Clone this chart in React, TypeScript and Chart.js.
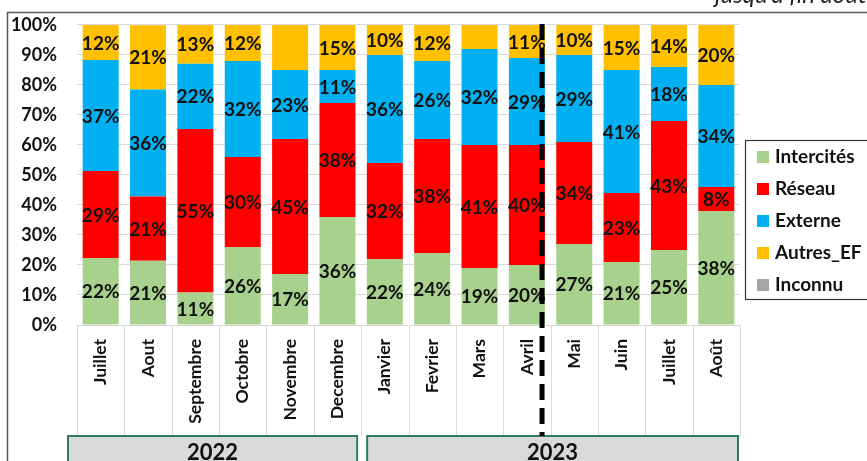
import React, { useEffect, useRef } from "react";
import { Chart, registerables } from "chart.js";
Chart.register(...registerables);

const months = ["Juillet", "Aout", "Septembre", "Octobre", "Novembre", "Decembre", "Janvier", "Fevrier", "Mars", "Avril", "Mai", "Juin", "Juillet", "Août"];
const years = ["2022", "2023"];
const yearFirstIndex = [0, 6];
const yearLastIndex = [5, 13];
const intercites = [22.3, 21.4, 10.8, 26, 17, 36, 22, 24, 19, 20, 27, 21, 25, 38];
const reseau = [29, 21.4, 54.5, 30, 45, 38, 32, 38, 41, 40, 34, 23, 43, 8];
const externe = [37, 35.7, 21.8, 32, 23, 11, 36, 26, 32, 29, 29, 41, 18, 34];
const autres = [11.7, 21.4, 12.9, 12, 15, 15, 10, 12, 8, 11, 10, 15, 14, 20];
const inconnu = [0, 0, 0, 0, 0, 0, 0, 0, 0, 0, 0, 0, 0, 0];
const autresHiddenLabels = [4, 8];
const seriesNames = ["Intercités", "Réseau", "Externe", "Autres_EF", "Inconnu"];
const seriesColors = ["#a9d18e", "#ff0000", "#00b0f0", "#ffc000", "#a6a6a6"];
const dashedAfterIndex = 9;
const noteText = "jusqu’à fin août 2023";

const FONT = "Lato, 'Open Sans', sans-serif";

const labelPlugin = {
  id: "segLabels",
  afterDatasetsDraw(chart: any) {
    const ctx = chart.ctx;
    ctx.save();
    ctx.font = `bold 19px ${FONT}`;
    ctx.fillStyle = "#111";
    ctx.textAlign = "center";
    ctx.textBaseline = "middle";
    chart.data.datasets.forEach((ds: any, di: number) => {
      const meta = chart.getDatasetMeta(di);
      meta.data.forEach((bar: any, i: number) => {
        const v = ds.data[i];
        if (!v) return;
        if ((ds.hiddenLabels || []).includes(i)) return;
        const p = bar.getProps(["x", "y", "base"], true);
        ctx.fillText(Math.round(v) + "%", p.x, (p.y + p.base) / 2 + 1);
      });
    });
    ctx.restore();
  },
};

const decoPlugin = {
  id: "deco",
  afterDraw(chart: any) {
    const ctx = chart.ctx;
    const xs = chart.scales.x;
    const area = chart.chartArea;
    const n = months.length;
    const cw = (area.right - area.left) / n;
    ctx.save();
    // frame
    ctx.strokeStyle = "#595959";
    ctx.lineWidth = 1.5;
    ctx.beginPath();
    ctx.moveTo(7.5, 470);
    ctx.lineTo(7.5, 12.5);
    ctx.lineTo(870, 12.5);
    ctx.stroke();
    // note text (cropped)
    ctx.font = `italic 24px ${FONT}`;
    ctx.fillStyle = "#222";
    ctx.textAlign = "left";
    ctx.textBaseline = "alphabetic";
    ctx.fillText(noteText, 715, 3);
    // category dividers
    ctx.strokeStyle = "#d9d9d9";
    ctx.lineWidth = 1;
    for (let i = 0; i <= n; i++) {
      const x = Math.round(area.left + i * cw) + 0.5;
      ctx.beginPath();
      ctx.moveTo(x, area.bottom);
      ctx.lineTo(x, 436);
      ctx.stroke();
    }
    // year boxes
    years.forEach((y, k) => {
      const l = xs.getPixelForValue(yearFirstIndex[k]) - cw / 2 + (k === 0 ? -9 : 6);
      const r = xs.getPixelForValue(yearLastIndex[k]) + cw / 2 - (k === 0 ? 4 : 2);
      ctx.fillStyle = "#d9d9d9";
      ctx.fillRect(l, 436, r - l, 40);
      ctx.strokeStyle = "#2e7d62";
      ctx.lineWidth = 2;
      ctx.strokeRect(l, 436, r - l, 40);
      ctx.fillStyle = "#111";
      ctx.font = `bold 22px ${FONT}`;
      ctx.textAlign = "center";
      ctx.textBaseline = "alphabetic";
      ctx.fillText(y, (l + r) / 2, 460);
    });
    // dashed separator
    const dx = xs.getPixelForValue(dashedAfterIndex) + cw * 0.32;
    ctx.strokeStyle = "#000";
    ctx.lineWidth = 5;
    ctx.setLineDash([16, 8]);
    ctx.beginPath();
    ctx.moveTo(dx, area.top - 1);
    ctx.lineTo(dx, 436);
    ctx.stroke();
    ctx.setLineDash([]);
    // legend
    const lx = 745, ly = 140;
    ctx.fillStyle = "#fff";
    ctx.fillRect(lx, ly, 140, 160);
    ctx.strokeStyle = "#333";
    ctx.lineWidth = 1.2;
    ctx.strokeRect(lx + 0.5, ly + 0.5, 140, 159);
    chart.data.datasets.forEach((ds: any, i: number) => {
      const cy = 157 + i * 32;
      ctx.fillStyle = ds.backgroundColor;
      ctx.fillRect(757, cy - 6, 12, 12);
      ctx.fillStyle = "#111";
      ctx.font = `bold 19px ${FONT}`;
      ctx.textAlign = "left";
      ctx.textBaseline = "middle";
      ctx.fillText(ds.label, 775, cy);
    });
    ctx.restore();
  },
};

export default function App() {
  const ref = useRef<HTMLCanvasElement>(null);
  useEffect(() => {
    document.body.style.margin = "0";
    const datasets = [intercites, reseau, externe, autres, inconnu].map((d, i) => ({
      label: seriesNames[i],
      data: d,
      backgroundColor: seriesColors[i],
      borderWidth: 0,
      barPercentage: 0.76,
      categoryPercentage: 1,
      hiddenLabels: i === 3 ? autresHiddenLabels : [],
    }));
    const chart = new Chart(ref.current!, {
      type: "bar",
      data: { labels: months, datasets: datasets as any },
      options: {
        animation: false,
        responsive: false,
        devicePixelRatio: 1,
        layout: { padding: { top: 20, right: 127, bottom: 0, left: 0 } },
        plugins: { legend: { display: false }, tooltip: { enabled: false } },
        scales: {
          x: {
            stacked: true,
            grid: { display: false },
            border: { display: false },
            ticks: {
              autoSkip: false,
              minRotation: 90,
              maxRotation: 90,
              padding: 6,
              color: "#111",
              font: { family: FONT, size: 17.5, weight: "bold" },
            },
            afterFit: (s: any) => {
              s.height = 136;
            },
          },
          y: {
            stacked: true,
            min: 0,
            max: 100,
            ticks: {
              stepSize: 10,
              padding: 20,
              color: "#111",
              font: { family: FONT, size: 18, weight: "bold", lineHeight: 0.55 },
              callback: (v: any) => v + "%",
            },
            grid: { color: "#d9d9d9", drawTicks: false },
            border: { display: false },
            afterFit: (s: any) => {
              s.width = 77;
            },
          },
        },
      },
      plugins: [labelPlugin, decoPlugin],
    });
    return () => chart.destroy();
  }, []);
  return (
    <div style={{ position: "absolute", left: 0, top: 0, width: 867, height: 461 }}>
      <canvas ref={ref} width={867} height={461} style={{ width: 867, height: 461 }} />
    </div>
  );
}
